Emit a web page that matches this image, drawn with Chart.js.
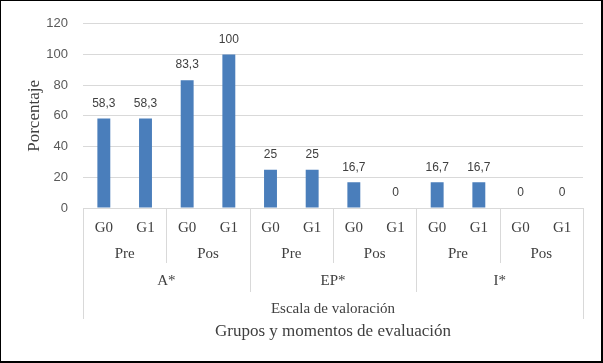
<!DOCTYPE html>
<html>
<head>
<meta charset="utf-8">
<script src="https://cdn.jsdelivr.net/npm/chart.js@4"></script>
<style>
  html, body { margin: 0; padding: 0; background: #fff; }
  #wrap { width: 603px; height: 363px; box-sizing: border-box; border-style: solid; border-color: #000; border-width: 1px 2px 2px 1px; }
  #wrap canvas { display: block; }
</style>
</head>
<body>
<div id="wrap"><canvas id="grafico" width="600" height="360"></canvas></div>
<script>
// Data
const grupos = ['G0', 'G1'];
const momentos = ['Pre', 'Pos'];
const escalas = ['A*', 'EP*', 'I*'];
const porcentajes = [58.3, 58.3, 83.3, 100, 25, 25, 16.7, 0, 16.7, 16.7, 0, 0];
const yMax = 120;
const yPaso = 20;

// one label per bar: escala / momento / grupo
const etiquetas = [];
escalas.forEach(e => momentos.forEach(m => grupos.forEach(g => etiquetas.push(e + ' ' + m + ' ' + g))));

const serif = '"Liberation Serif", "Times New Roman", serif';
const sans = '"Liberation Sans", Arial, sans-serif';
const gris = '#d9d9d9';

// draws the nested category rows, separators, titles and value labels
const ejeMultinivel = {
    id: 'ejeMultinivel',
    afterDraw(chart) {
        const ctx = chart.ctx;
        const x = chart.scales.x;
        const area = chart.chartArea;
        const n = grupos.length * momentos.length;
        const paso = (x.getPixelForValue(1) - x.getPixelForValue(0));
        const borde = i => x.getPixelForValue(i) - paso / 2;

        ctx.save();
        ctx.strokeStyle = gris;
        ctx.lineWidth = 1;
        // separators between moment groups and scale groups
        for (let i = 0; i <= etiquetas.length; i += grupos.length) {
            let fin = 262;
            if (i % n === 0) fin = 291;
            if (i === 0 || i === etiquetas.length) fin = 318;
            const px = Math.round(borde(i)) + 0.5;
            ctx.beginPath();
            ctx.moveTo(px, area.bottom);
            ctx.lineTo(px, fin);
            ctx.stroke();
        }

        ctx.fillStyle = '#404040';
        ctx.textAlign = 'center';
        ctx.textBaseline = 'middle';
        ctx.font = '15px ' + serif;
        // Pre / Pos row
        let k = 0;
        escalas.forEach(() => momentos.forEach(m => {
            const c = (borde(k) + borde(k + grupos.length)) / 2;
            ctx.fillText(m, c, 253);
            k += grupos.length;
        }));
        // A* / EP* / I* row
        escalas.forEach((e, j) => {
            const c = (borde(j * n) + borde((j + 1) * n)) / 2;
            ctx.fillText(e, c, 280);
        });
        ctx.fillText('Escala de valoración', (area.left + area.right) / 2, 308);

        ctx.font = '17px ' + serif;
        ctx.fillText('Grupos y momentos de evaluación', (area.left + area.right) / 2, 331);
        ctx.save();
        ctx.translate(34, (area.top + area.bottom) / 2);
        ctx.rotate(-Math.PI / 2);
        ctx.fillText('Porcentaje', 0, 0);
        ctx.restore();

        // value labels above bars
        ctx.font = '12px ' + sans;
        ctx.fillStyle = '#404040';
        const meta = chart.getDatasetMeta(0);
        meta.data.forEach((bar, i) => {
            const txt = String(porcentajes[i]).replace('.', ',');
            ctx.fillText(txt, bar.x, bar.y - 15);
        });
        ctx.restore();
    }
};

new Chart(document.getElementById('grafico'), {
    type: 'bar',
    data: {
        labels: etiquetas,
        datasets: [{
            label: 'Porcentaje',
            data: porcentajes,
            backgroundColor: '#4a7ebb',
            categoryPercentage: 1,
            barPercentage: 0.31
        }]
    },
    options: {
        responsive: false,
        animation: false,
        layout: { padding: { top: 18, right: 18, left: 0, bottom: 0 } },
        plugins: {
            legend: { display: false },
            tooltip: { enabled: false }
        },
        scales: {
            x: {
                grid: { display: false, drawTicks: false },
                border: { display: false },
                ticks: {
                    padding: 11,
                    autoSkip: false,
                    maxRotation: 0,
                    color: '#404040',
                    font: { family: serif, size: 15 },
                    callback: (v, i) => grupos[i % grupos.length]
                },
                afterFit: s => { s.height = 153; }
            },
            y: {
                min: 0,
                max: yMax,
                ticks: {
                    stepSize: yPaso,
                    padding: 15,
                    color: '#595959',
                    font: { family: sans, size: 13 }
                },
                grid: { color: gris, drawTicks: false },
                border: { display: false },
                afterFit: s => { s.width = 82; }
            }
        }
    },
    plugins: [ejeMultinivel]
});
</script>
</body>
</html>
